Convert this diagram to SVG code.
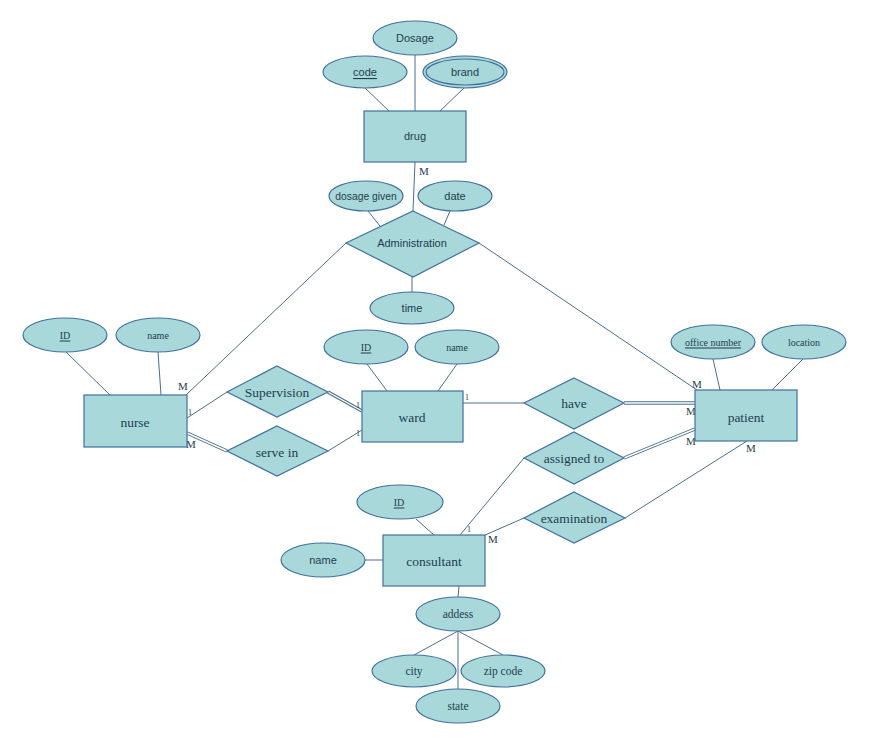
<svg xmlns="http://www.w3.org/2000/svg" width="873" height="741" viewBox="0 0 873 741">
<style>
.s{fill:#a8d8da;stroke:#41719c;stroke-width:1.2}
.l{stroke:#4a6f8c;stroke-width:1;fill:none}
.d{stroke:#4a6f8c;stroke-width:3.4;fill:none}
.dw{stroke:#ffffff;stroke-width:1.4;fill:none}
.ts{font-family:"Liberation Sans",Arial,sans-serif;font-size:11px;fill:#1e3d4f;text-anchor:middle;dominant-baseline:central}
.tr{font-family:"Liberation Serif","Times New Roman",serif;fill:#1e3d4f;text-anchor:middle;dominant-baseline:central}
.big{font-size:13.5px}
.med{font-size:11.5px}
.sm{font-size:10px}
.u{text-decoration:underline}
.c{font-family:"Liberation Serif","Times New Roman",serif;fill:#1e3d4f;font-size:11px}
.c1{font-family:"Liberation Serif","Times New Roman",serif;fill:#1e3d4f;font-size:8px}
</style>
<rect width="873" height="741" fill="#ffffff"/>
<g id="connectors">
<line class="l" x1="365" y1="88" x2="389" y2="111"/>
<line class="l" x1="415" y1="55" x2="415" y2="111"/>
<line class="l" x1="464" y1="88" x2="440" y2="111"/>
<line class="l" x1="415" y1="162" x2="413" y2="211"/>
<line class="l" x1="368" y1="211" x2="380" y2="226"/>
<line class="l" x1="450" y1="211" x2="444" y2="225"/>
<line class="l" x1="412" y1="277" x2="412" y2="292"/>
<line class="l" x1="346" y1="243" x2="186" y2="395"/>
<line class="l" x1="479" y1="243" x2="697" y2="390"/>
<line class="l" x1="66" y1="352" x2="110" y2="395"/>
<line class="l" x1="158" y1="352" x2="161" y2="395"/>
<line class="l" x1="367" y1="364" x2="387" y2="391"/>
<line class="l" x1="457" y1="364" x2="438" y2="391"/>
<line class="l" x1="713" y1="359" x2="720" y2="390"/>
<line class="l" x1="803" y1="359" x2="772" y2="390"/>
<line class="l" x1="187" y1="418" x2="227" y2="392"/>
<line class="d" x1="328" y1="392" x2="362" y2="411"/>
<line class="dw" x1="328" y1="392" x2="362" y2="411"/>
<line class="d" x1="187" y1="433" x2="227" y2="451"/>
<line class="dw" x1="187" y1="433" x2="227" y2="451"/>
<line class="l" x1="328" y1="451" x2="362" y2="430"/>
<line class="l" x1="463" y1="403" x2="524" y2="403"/>
<line class="d" x1="624" y1="403" x2="695" y2="403"/>
<line class="dw" x1="624" y1="403" x2="695" y2="403"/>
<line class="d" x1="624" y1="458" x2="695" y2="429"/>
<line class="dw" x1="624" y1="458" x2="695" y2="429"/>
<line class="l" x1="625" y1="518" x2="747" y2="441"/>
<line class="l" x1="524" y1="458" x2="460" y2="535"/>
<line class="l" x1="524" y1="518" x2="485" y2="535"/>
<line class="l" x1="416" y1="519" x2="434" y2="535"/>
<line class="l" x1="365" y1="560" x2="383" y2="560"/>
<line class="l" x1="459" y1="586" x2="458" y2="597"/>
<line class="l" x1="458" y1="631" x2="414" y2="655"/>
<line class="l" x1="458" y1="631" x2="458" y2="689"/>
<line class="l" x1="458" y1="631" x2="503" y2="655"/>
<text class="c" x="419" y="175">M</text>
<text class="c" x="178" y="390">M</text>
<text class="c1" x="188" y="415">1</text>
<text class="c" x="186" y="448">M</text>
<text class="c1" x="356" y="408">1</text>
<text class="c1" x="356" y="436">1</text>
<text class="c1" x="465" y="400">1</text>
<text class="c" x="692" y="388">M</text>
<text class="c" x="686" y="415">M</text>
<text class="c" x="686" y="445">M</text>
<text class="c" x="746" y="452">M</text>
<text class="c1" x="467" y="532">1</text>
<text class="c" x="488" y="543">M</text>
</g>
<g id="drug"><rect class="s" x="364" y="111" width="102" height="51"/><text class="ts" x="415" y="136">drug</text></g>
<g id="dosage"><ellipse class="s" cx="415" cy="38" rx="42" ry="17"/><text class="ts" x="415" y="38">Dosage</text></g>
<g id="code"><ellipse class="s" cx="365" cy="72" rx="42" ry="16"/><text class="ts u" x="365" y="72">code</text></g>
<g id="brand"><ellipse class="s" cx="465" cy="72" rx="42" ry="16"/><ellipse class="s" cx="465" cy="72" rx="39" ry="13"/><text class="ts" x="465" y="72">brand</text></g>
<g id="dosage-given"><ellipse class="s" cx="366" cy="196" rx="37" ry="15"/><text class="ts" x="366" y="196" style="font-size:10.3px">dosage given</text></g>
<g id="date"><ellipse class="s" cx="455" cy="196" rx="37" ry="15"/><text class="ts" x="455" y="196">date</text></g>
<g id="administration"><polygon class="s" points="413,211 479,243 413,277 346,243"/><text class="ts" x="412" y="243">Administration</text></g>
<g id="time"><ellipse class="s" cx="412" cy="308" rx="42" ry="16"/><text class="ts" x="412" y="308">time</text></g>
<g id="nurse"><rect class="s" x="84" y="395" width="103" height="52"/><text class="tr big" x="135" y="422">nurse</text></g>
<g id="nurse-id"><ellipse class="s" cx="65" cy="335" rx="42" ry="17"/><text class="tr sm u" x="65" y="335">ID</text></g>
<g id="nurse-name"><ellipse class="s" cx="158" cy="335" rx="42" ry="17"/><text class="tr sm" x="158" y="335">name</text></g>
<g id="supervision"><polygon class="s" points="277,366 328,392 277,417 227,392"/><text class="tr big" x="277" y="392">Supervision</text></g>
<g id="serve-in"><polygon class="s" points="277,426 328,451 277,476 227,451"/><text class="tr big" x="277" y="452">serve in</text></g>
<g id="ward"><rect class="s" x="362" y="391" width="101" height="51"/><text class="tr big" x="412" y="417">ward</text></g>
<g id="ward-id"><ellipse class="s" cx="366" cy="347" rx="42" ry="17"/><text class="tr sm u" x="366" y="347">ID</text></g>
<g id="ward-name"><ellipse class="s" cx="457" cy="347" rx="42" ry="17"/><text class="tr sm" x="457" y="347">name</text></g>
<g id="have"><polygon class="s" points="574,378 624,403 574,429 524,403"/><text class="tr big" x="574" y="403">have</text></g>
<g id="patient"><rect class="s" x="695" y="390" width="102" height="51"/><text class="tr big" x="746" y="417">patient</text></g>
<g id="office-number"><ellipse class="s" cx="713" cy="342" rx="42" ry="17"/><text class="tr sm u" x="713" y="342">office number</text></g>
<g id="location"><ellipse class="s" cx="804" cy="342" rx="42" ry="17"/><text class="tr sm" x="804" y="342">location</text></g>
<g id="assigned-to"><polygon class="s" points="574,432 624,458 574,484 524,458"/><text class="tr big" x="574" y="458">assigned to</text></g>
<g id="examination"><polygon class="s" points="574,492 625,518 574,543 524,518"/><text class="tr big" x="574" y="518">examination</text></g>
<g id="consultant"><rect class="s" x="383" y="535" width="102" height="51"/><text class="tr big" x="434" y="561">consultant</text></g>
<g id="consultant-id"><ellipse class="s" cx="400" cy="502" rx="43" ry="17"/><text class="tr sm u" x="399" y="502">ID</text></g>
<g id="consultant-name"><ellipse class="s" cx="323" cy="560" rx="42" ry="17"/><text class="ts" x="323" y="560">name</text></g>
<g id="addess"><ellipse class="s" cx="458" cy="614" rx="42" ry="17"/><text class="tr med" x="458" y="614">addess</text></g>
<g id="city"><ellipse class="s" cx="414" cy="671" rx="42" ry="16"/><text class="tr med" x="414" y="671">city</text></g>
<g id="zip-code"><ellipse class="s" cx="503" cy="671" rx="42" ry="16"/><text class="tr med" x="503" y="671">zip code</text></g>
<g id="state"><ellipse class="s" cx="458" cy="706" rx="42" ry="17"/><text class="tr med" x="458" y="706">state</text></g>
</svg>
